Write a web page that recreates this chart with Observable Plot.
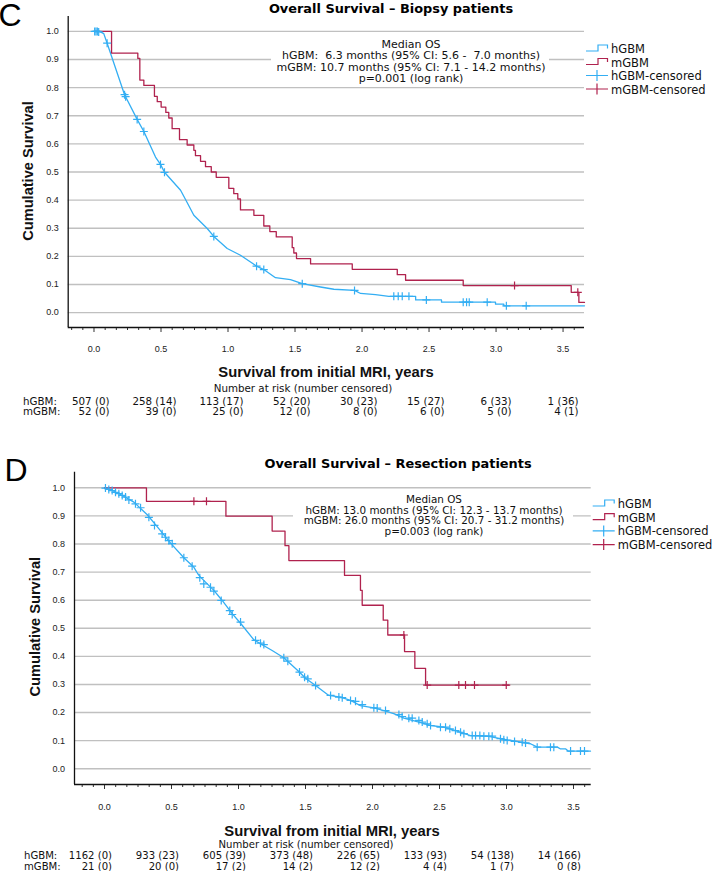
<!DOCTYPE html>
<html>
<head>
<meta charset="utf-8">
<script src="https://cdn.jsdelivr.net/npm/d3@7"></script>
<script src="https://cdn.jsdelivr.net/npm/@observablehq/plot@0.6"></script>
<style>
  html, body { margin: 0; padding: 0; background: #fff; }
  #chart { width: 714px; height: 871px; overflow: hidden; }
  #chart svg { display: block; overflow: visible; }
</style>
</head>
<body>
<div id="chart"></div>
<script>
// ---------- shared axis / legend data ----------
const majorTicks = [0, 0.5, 1, 1.5, 2, 2.5, 3, 3.5];
const majorTickLabels = ["0.0", "0.5", "1.0", "1.5", "2.0", "2.5", "3.0", "3.5"];
const minorPerMajor = 6; // minor tick marks per 0.5-year interval
const yTicks = [0, 0.1, 0.2, 0.3, 0.4, 0.5, 0.6, 0.7, 0.8, 0.9, 1.0];
const yTickLabels = ["0.0", "0.1", "0.2", "0.3", "0.4", "0.5", "0.6", "0.7", "0.8", "0.9", "1.0"];
const riskTimes = [0, 0.5, 1, 1.5, 2, 2.5, 3, 3.5];
const legendLabels = ["hGBM", "mGBM", "hGBM-censored", "mGBM-censored"];
const groupNames = ["hGBM:", "mGBM:"];
const xTitle = "Survival from initial MRI, years";
const yTitle = "Cumulative Survival";
const riskHeader = "Number at risk (number censored)";

// ---------- Panel C: biopsy ----------
const biopsyLetter = "C";
const biopsyTitle = "Overall Survival – Biopsy patients";
const biopsyMedian = ["Median OS",
  "hGBM:  6.3 months (95% CI: 5.6 -  7.0 months)",
  "mGBM: 10.7 months (95% CI: 7.1 - 14.2 months)",
  "p=0.001 (log rank)"];
const biopsyHCurve = [[0,1],[0.04,1],[0.073,0.992],[0.098,0.958],[0.228,0.775],[0.322,0.687],[0.372,0.644],[0.459,0.553],[0.496,0.527],[0.526,0.499],[0.646,0.435],[0.683,0.402],[0.745,0.346],[0.845,0.299],[0.894,0.271],[0.994,0.228],[1.093,0.204],[1.168,0.180],[1.213,0.165],[1.267,0.153],[1.354,0.124],[1.466,0.117],[1.554,0.103],[1.690,0.091],[1.790,0.083],[1.944,0.079],[1.989,0.068],[2.10,0.064],[2.20,0.058],[2.40,0.058],[2.40,0.045],[2.593,0.045],[2.593,0.037],[2.996,0.037],[2.996,0.030],[3.058,0.030],[3.058,0.024],[3.66,0.024]];
const biopsyHCens = [[0.005,1],[0.015,1],[0.025,1],[0.035,0.998],[0.098,0.958],[0.228,0.775],[0.236,0.768],[0.322,0.687],[0.372,0.644],[0.496,0.527],[0.526,0.499],[0.894,0.271],[1.213,0.165],[1.267,0.153],[1.554,0.103],[1.944,0.079],[2.237,0.058],[2.27,0.058],[2.30,0.058],[2.35,0.058],[2.48,0.045],[2.755,0.037],[2.78,0.037],[2.80,0.037],[2.934,0.037],[3.077,0.024],[3.225,0.024]];
const biopsyMCurve = [[0,1],[0.131,0.923],[0.327,0.904],[0.342,0.827],[0.372,0.808],[0.451,0.769],[0.472,0.750],[0.501,0.731],[0.536,0.712],[0.558,0.692],[0.583,0.654],[0.638,0.615],[0.695,0.596],[0.745,0.577],[0.757,0.558],[0.795,0.538],[0.832,0.519],[0.875,0.500],[0.912,0.481],[1.006,0.442],[1.043,0.423],[1.073,0.404],[1.093,0.365],[1.193,0.346],[1.267,0.308],[1.312,0.288],[1.360,0.269],[1.479,0.231],[1.491,0.212],[1.511,0.192],[1.616,0.173],[1.927,0.154],[2.263,0.135],[2.325,0.115],[2.755,0.096],[3.561,0.072],[3.618,0.036],[3.66,0.036]];
const biopsyMCens = [[3.138,0.096],[3.61,0.072]];
const biopsyRiskH = ["507 (0)", "258 (14)", "113 (17)", "52 (20)", "30 (23)", "15 (27)", "6 (33)", "1 (36)"];
const biopsyRiskM = ["52 (0)", "39 (0)", "25 (0)", "12 (0)", "8 (0)", "6 (0)", "5 (0)", "4 (1)"];

// ---------- Panel D: resection ----------
const resectLetter = "D";
const resectTitle = "Overall Survival – Resection patients";
const resectMedian = ["Median OS",
  "hGBM: 13.0 months (95% CI: 12.3 - 13.7 months)",
  "mGBM: 26.0 months (95% CI: 20.7 - 31.2 months)",
  "p=0.003 (log rank)"];
const resectHCurve = [[0,1],[0.045,0.993],[0.119,0.976],[0.219,0.949],[0.319,0.904],[0.393,0.862],[0.493,0.803],[0.592,0.751],[0.667,0.717],[0.696,0.694],[0.716,0.682],[0.816,0.635],[0.878,0.599],[0.953,0.552],[1.015,0.518],[1.115,0.459],[1.164,0.445],[1.251,0.421],[1.338,0.395],[1.450,0.346],[1.5,0.322],[1.575,0.296],[1.674,0.261],[1.761,0.255],[1.836,0.243],[1.910,0.225],[2.010,0.217],[2.085,0.207],[2.159,0.196],[2.234,0.180],[2.346,0.166],[2.433,0.154],[2.532,0.148],[2.632,0.134],[2.731,0.118],[2.856,0.116],[2.955,0.107],[3.080,0.097],[3.179,0.089],[3.23,0.077],[3.38,0.077],[3.40,0.071],[3.44,0.071],[3.46,0.063],[3.627,0.063]];
const resectHCens = [[0.007,0.999],[0.032,0.994],[0.057,0.990],[0.082,0.984],[0.107,0.979],[0.132,0.973],[0.157,0.967],[0.182,0.957],[0.231,0.943],[0.269,0.929],[0.331,0.895],[0.373,0.866],[0.430,0.836],[0.455,0.824],[0.480,0.812],[0.505,0.801],[0.592,0.751],[0.654,0.721],[0.711,0.680],[0.741,0.658],[0.791,0.646],[0.816,0.632],[0.871,0.599],[0.935,0.563],[0.953,0.549],[1.015,0.522],[1.127,0.457],[1.164,0.447],[1.189,0.442],[1.338,0.395],[1.368,0.383],[1.455,0.344],[1.493,0.326],[1.517,0.320],[1.575,0.296],[1.687,0.261],[1.749,0.255],[1.774,0.253],[1.836,0.243],[1.873,0.240],[1.923,0.228],[2.010,0.217],[2.035,0.216],[2.097,0.207],[2.197,0.193],[2.221,0.186],[2.271,0.180],[2.296,0.180],[2.346,0.172],[2.371,0.166],[2.408,0.160],[2.433,0.154],[2.507,0.148],[2.545,0.148],[2.577,0.142],[2.619,0.136],[2.657,0.130],[2.682,0.125],[2.744,0.118],[2.769,0.118],[2.801,0.118],[2.831,0.116],[2.868,0.116],[2.893,0.116],[2.955,0.107],[2.980,0.103],[3.005,0.101],[3.060,0.097],[3.117,0.094],[3.142,0.092],[3.229,0.077],[3.328,0.077],[3.353,0.077],[3.478,0.063],[3.552,0.063],[3.582,0.063]];
const resectMCurve = [[0,1],[0.313,0.952],[0.906,0.899],[1.251,0.846],[1.347,0.794],[1.376,0.741],[1.791,0.688],[1.910,0.635],[1.923,0.582],[2.080,0.529],[2.114,0.476],[2.239,0.417],[2.316,0.357],[2.396,0.298],[3.017,0.298]];
const resectMCens = [[0.667,0.952],[0.761,0.952],[2.234,0.476],[2.408,0.298],[2.644,0.298],[2.694,0.298],[2.761,0.298],[2.998,0.298]];
const resectRiskH = ["1162 (0)", "933 (23)", "605 (39)", "373 (48)", "226 (65)", "133 (93)", "54 (138)", "14 (166)"];
const resectRiskM = ["21 (0)", "20 (0)", "17 (2)", "14 (2)", "12 (2)", "4 (4)", "1 (7)", "0 (8)"];

// ---------- styling ----------
const BLUE = "#33aef3";
const RED = "#b0224e";
const GRID = "#c0c0c0";
const SANS = "'Liberation Sans', Arial, sans-serif";
const LUCIDA = "'DejaVu Sans', sans-serif";

const crossSymbol = {
  draw(ctx, size) {
    const r = Math.sqrt(size / Math.PI);
    ctx.moveTo(0, -r); ctx.lineTo(0, r);
    ctx.moveTo(-r, 0); ctx.lineTo(r, 0);
  }
};

const rows = arr => arr.map(([t, s]) => ({t, s}));

function makePanel(p) {
  const step = 0.5 / minorPerMajor;
  const minorTicks = d3.range(Math.ceil(p.xDomain[0] / step), Math.floor(p.xDomain[1] / step) + 1)
    .filter(k => k % minorPerMajor !== 0).map(k => k * step);
  const svgEl = Plot.plot({
    width: 714, height: p.height,
    marginLeft: p.ml, marginRight: p.mr, marginTop: p.mt, marginBottom: p.mb,
    x: {domain: p.xDomain},
    y: {domain: p.yDomain},
    style: {fontFamily: SANS, fontSize: "9px", color: "#222", background: "#fff", overflow: "visible"},
    marks: [
      Plot.ruleY(yTicks, {stroke: GRID, strokeWidth: 1.4}),
      Plot.axisY(yTicks, {tickSize: 0, tickPadding: p.yPad, tickFormat: d => yTickLabels[yTicks.indexOf(d)], label: null, fontSize: 9}),
      Plot.axisX(minorTicks, {tickSize: 3, tickFormat: () => "", label: null, stroke: "#333"}),
      Plot.axisX(majorTicks, {tickSize: 5, tickPadding: p.xPad, tickFormat: d => majorTickLabels[majorTicks.indexOf(d)], label: null, stroke: "#333", fontSize: 9}),
      Plot.ruleX([p.xDomain[0]], {stroke: "#111", strokeWidth: 1.3}),
      Plot.ruleY([p.yDomain[0]], {stroke: "#111", strokeWidth: 1.3}),
      Plot.line(rows(p.hCurve), {x: "t", y: "s", stroke: BLUE, strokeWidth: 1.3}),
      Plot.line(rows(p.mCurve), {x: "t", y: "s", stroke: RED, strokeWidth: 1.3, curve: "step-after"}),
      Plot.dot(rows(p.hCens), {x: "t", y: "s", symbol: crossSymbol, r: 4, stroke: BLUE, strokeWidth: 1.2, fill: "none"}),
      Plot.dot(rows(p.mCens), {x: "t", y: "s", symbol: crossSymbol, r: 4, stroke: RED, strokeWidth: 1.2, fill: "none"})
    ]
  });

  const svg = d3.select(svgEl);
  const x = svgEl.scale("x");
  const ov = svg.append("g").attr("text-anchor", "start");

  // panel letter and title
  ov.append("text").attr("x", p.letterX).attr("y", p.letterY).attr("text-anchor", "start")
    .attr("font-family", SANS).attr("font-size", 32).attr("fill", "#000").text(p.letter);
  ov.append("text").attr("x", p.titleX).attr("y", p.titleY).attr("text-anchor", "middle")
    .attr("font-family", LUCIDA).attr("font-weight", "bold").attr("font-size", 12.9).attr("fill", "#000").text(p.title);

  // annotation box
  ov.append("rect").attr("x", p.box[0]).attr("y", p.box[1]).attr("width", p.box[2]).attr("height", p.box[3]).attr("fill", "#fff");
  p.median.forEach((line, i) => {
    ov.append("text").attr("x", p.annX).attr("y", p.annY + i * p.annStep).attr("text-anchor", "middle")
      .attr("font-family", LUCIDA).attr("font-size", p.annSize).attr("fill", "#111")
      .style("white-space", "pre").text(line);
  });

  // legend
  const lg = ov.append("g").attr("transform", `translate(${p.legX},${p.legY})`);
  const colors = [BLUE, RED, BLUE, RED];
  legendLabels.forEach((lab, i) => {
    const y = i * p.legStep;
    if (i < 2) {
      lg.append("path").attr("d", `M0,${y - 2}H12V${y - 8}H21.5V${y - 4.5}`)
        .attr("fill", "none").attr("stroke", colors[i]).attr("stroke-width", 1.2);
    } else {
      lg.append("path").attr("d", `M0,${y - 4.5}H22M11,${y - 10}V${y + 1}`)
        .attr("fill", "none").attr("stroke", colors[i]).attr("stroke-width", 1.2);
    }
    lg.append("text").attr("x", 25).attr("y", y).attr("text-anchor", "start")
      .attr("font-family", LUCIDA).attr("font-size", 11.5).attr("fill", "#111").text(lab);
  });

  // axis titles
  ov.append("text").attr("transform", `translate(${p.yTitleX},${p.yTitleY}) rotate(-90)`).attr("text-anchor", "middle")
    .attr("font-family", SANS).attr("font-weight", "bold").attr("font-size", 14.6).attr("fill", "#111").text(yTitle);
  ov.append("text").attr("x", p.xTitleX).attr("y", p.xTitleY).attr("text-anchor", "middle")
    .attr("font-family", SANS).attr("font-weight", "bold").attr("font-size", 14.8).attr("fill", "#111").text(xTitle);

  // risk table
  ov.append("text").attr("x", p.riskHeadX).attr("y", p.riskHeadY).attr("text-anchor", "middle")
    .attr("font-family", LUCIDA).attr("font-size", p.riskSize).attr("fill", "#111").text(riskHeader);
  [p.riskH, p.riskM].forEach((vals, r) => {
    const yy = p.riskRowY[r];
    ov.append("text").attr("x", p.riskLabelX).attr("y", yy).attr("text-anchor", "start")
      .attr("font-family", LUCIDA).attr("font-size", p.riskSize).attr("fill", "#111").text(groupNames[r]);
    vals.forEach((v, i) => {
      ov.append("text").attr("x", x.apply(riskTimes[i]) + p.riskOff).attr("y", yy).attr("text-anchor", "end")
        .attr("font-family", LUCIDA).attr("font-size", p.riskSize).attr("fill", "#111").text(v);
    });
  });
  return svgEl;
}

const chart = document.getElementById("chart");

chart.appendChild(makePanel({
  height: 430, ml: 67.7, mr: 130, mt: 16, mb: 103,
  xDomain: [-0.1925, 3.66], yDomain: [-0.053, 1.053], yPad: 9.4, xPad: 13,
  hCurve: biopsyHCurve, hCens: biopsyHCens, mCurve: biopsyMCurve, mCens: biopsyMCens,
  letter: biopsyLetter, letterX: -1.5, letterY: 26,
  title: biopsyTitle, titleX: 391, titleY: 12.5,
  median: biopsyMedian, box: [271, 37, 278, 48], annX: 411, annY: 47.8, annStep: 11.4, annSize: 11,
  legX: 586, legY: 53, legStep: 13.5,
  yTitleX: 33, yTitleY: 171, xTitleX: 326, xTitleY: 377,
  riskHeadX: 303, riskHeadY: 392, riskRowY: [404.5, 415], riskLabelX: 23, riskOff: 16, riskSize: 10.3,
  riskH: biopsyRiskH, riskM: biopsyRiskM
}));

chart.appendChild(makePanel({
  height: 441, ml: 74, mr: 123.3, mt: 41.7, mb: 87,
  xDomain: [-0.224, 3.632], yDomain: [-0.056, 1.0555], yPad: 9.4, xPad: 14.5,
  hCurve: resectHCurve, hCens: resectHCens, mCurve: resectMCurve, mCens: resectMCens,
  letter: resectLetter, letterX: 4.5, letterY: 51,
  title: resectTitle, titleX: 398, titleY: 38,
  median: resectMedian, box: [293, 61, 280, 47], annX: 434, annY: 73.2, annStep: 10.5, annSize: 10.4,
  legX: 592.7, legY: 78, legStep: 13.7,
  yTitleX: 40, yTitleY: 196.7, xTitleX: 332, xTitleY: 405.5,
  riskHeadX: 306, riskHeadY: 418.3, riskRowY: [429.2, 439.9], riskLabelX: 24, riskOff: 8, riskSize: 10.1,
  riskH: resectRiskH, riskM: resectRiskM
}));
</script>
</body>
</html>
